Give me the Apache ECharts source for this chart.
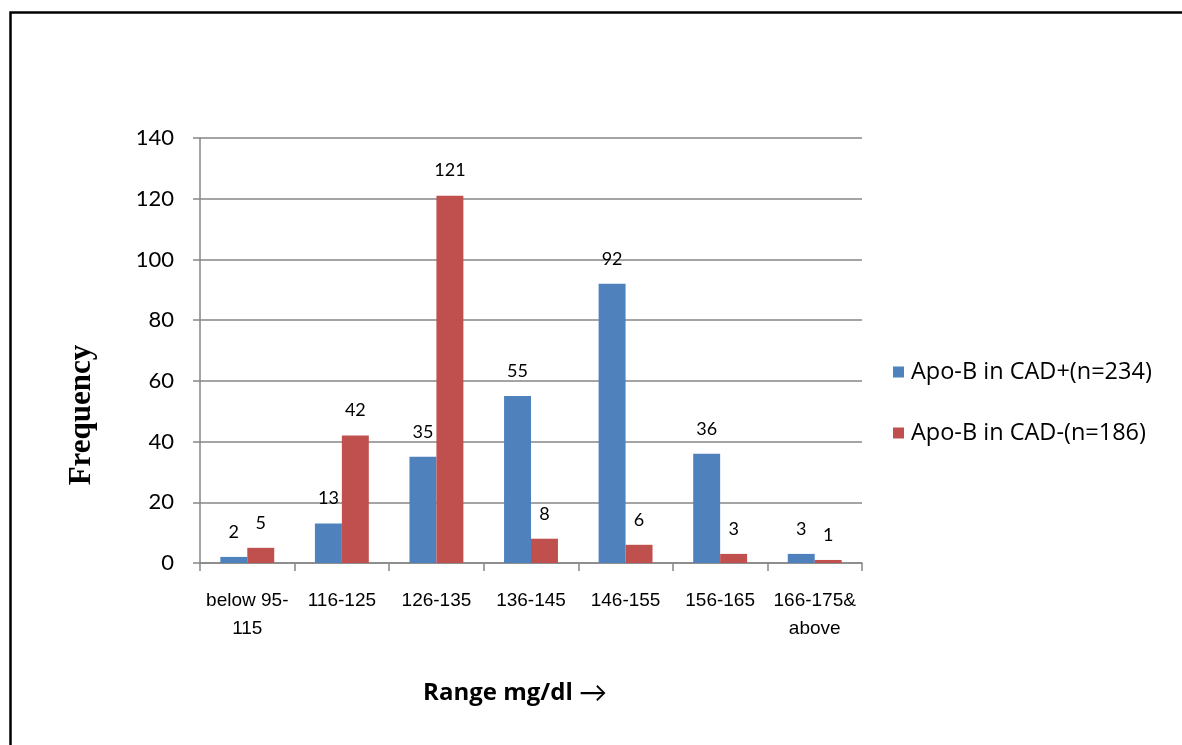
<!DOCTYPE html>
<html>
<head>
<meta charset="utf-8">
<script src="https://cdn.jsdelivr.net/npm/echarts@6/dist/echarts.min.js"></script>
<style>
html,body{margin:0;padding:0;background:#fff;}
#chart{width:1182px;height:745px;}
</style>
</head>
<body>
<div id="chart"></div>
<script>
const categories = ["below 95-\n115", "116-125", "126-135", "136-145", "146-155", "156-165", "166-175&\nabove"];
const cadPlus = [2, 13, 35, 55, 92, 36, 3];
const cadMinus = [5, 42, 121, 8, 6, 3, 1];
const seriesNames = ["Apo-B in CAD+(n=234)", "Apo-B in CAD-(n=186)"];
const yTicks = { min: 0, max: 140, interval: 20 };

const chart = echarts.init(document.getElementById('chart'), null, { renderer: 'canvas' });
const axisGray = '#868686';
const labelStyle = { show: true, position: 'top', distance: 16, color: '#000', fontFamily: 'Lato', fontSize: 18 };

chart.setOption({
  animation: false,
  backgroundColor: '#fff',
  grid: { left: 200, right: 320, top: 138, bottom: 182, containLabel: false },
  legend: {
    orient: 'vertical',
    left: 888,
    top: 355,
    itemWidth: 11,
    itemHeight: 11,
    itemGap: 37,
    icon: 'rect',
    textStyle: { fontFamily: 'Open Sans', fontSize: 23.5, lineHeight: 24, color: '#000', padding: [0, 0, 0, 2] },
    data: seriesNames
  },
  xAxis: {
    type: 'category',
    data: categories,
    axisLine: { lineStyle: { color: axisGray, width: 1.5 } },
    axisTick: { show: true, length: 8, lineStyle: { color: axisGray, width: 1.5 } },
    axisLabel: { fontFamily: 'Liberation Sans', fontSize: 19, color: '#000', margin: 24, lineHeight: 28, interval: 0 },
    name: '{a|Range mg/dl\u00a0}{b|\u2192}',
    nameLocation: 'middle',
    nameGap: 116,
    nameTextStyle: {
      color: '#000', padding: [0, 32, 0, 0],
      rich: {
        a: { fontFamily: 'Open Sans', fontWeight: 'bold', fontSize: 24, color: '#000' },
        b: { fontFamily: 'Lato', fontSize: 28, color: '#000' }
      }
    }
  },
  yAxis: {
    type: 'value',
    min: yTicks.min,
    max: yTicks.max,
    interval: yTicks.interval,
    axisLine: { show: true, lineStyle: { color: axisGray, width: 1.5 } },
    axisTick: { show: true, length: 7, lineStyle: { color: axisGray, width: 1.5 } },
    axisLabel: { fontFamily: 'Lato', fontSize: 22, color: '#000', margin: 26 },
    splitLine: { lineStyle: { color: axisGray, width: 1.5 } }
  },
  series: [
    {
      name: seriesNames[0], type: 'bar', data: cadPlus,
      itemStyle: { color: '#4F81BD' },
      barGap: '0%', barCategoryGap: '43%',
      label: labelStyle
    },
    {
      name: seriesNames[1], type: 'bar', data: cadMinus,
      itemStyle: { color: '#C0504D' },
      barGap: '0%', barCategoryGap: '43%',
      label: labelStyle
    }
  ],
  graphic: [
    {
      type: 'rect', left: 8, top: 10, silent: true,
      shape: { x: 0, y: 0, width: 1250, height: 800 },
      style: { fill: 'none', stroke: '#000', lineWidth: 2.5 }
    },
    {
      type: 'text', silent: true,
      x: 82, y: 415, rotation: Math.PI / 2,
      style: {
        text: 'Frequency', fill: '#000',
        font: 'bold 31px "Liberation Serif", "Times New Roman", serif',
        textAlign: 'center', textVerticalAlign: 'middle'
      }
    }
  ]
});
</script>
</body>
</html>
